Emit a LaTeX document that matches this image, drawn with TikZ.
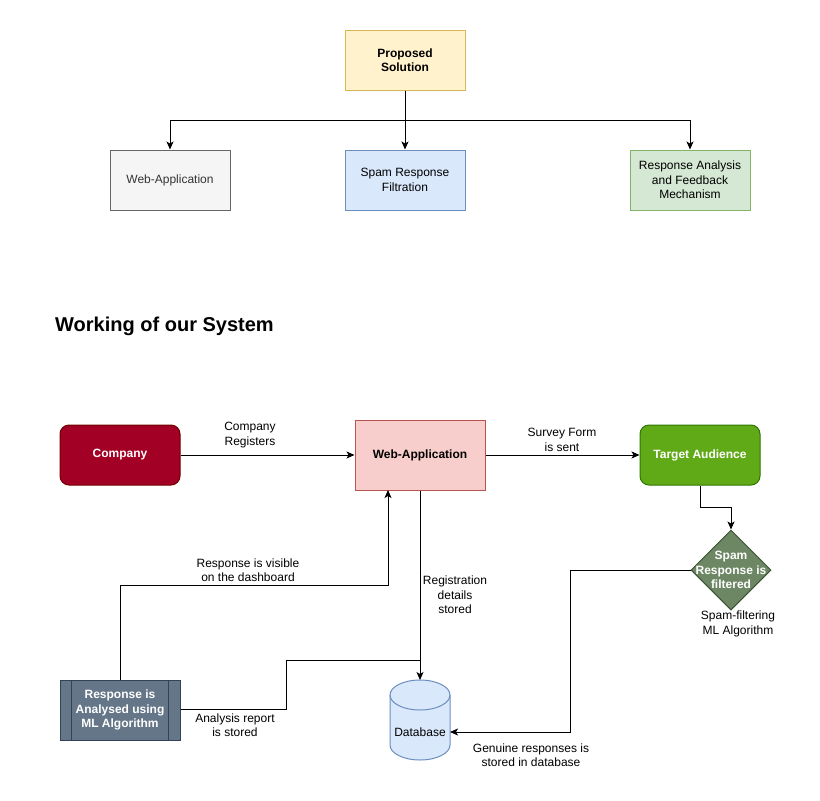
\documentclass[tikz,border=0pt]{standalone}
\usepackage{fontspec}
\setmainfont{Liberation Sans}
\usepackage{tikz}
\usetikzlibrary{positioning, arrows.meta, calc, shapes.geometric}
\definecolor{solfill}{HTML}{FFF2CC}
\definecolor{soldraw}{HTML}{D6B656}
\definecolor{greyfill}{HTML}{F5F5F5}
\definecolor{greydraw}{HTML}{666666}
\definecolor{greytext}{HTML}{333333}
\definecolor{bluefill}{HTML}{DAE8FC}
\definecolor{bluedraw}{HTML}{6C8EBF}
\definecolor{greenfill}{HTML}{D5E8D4}
\definecolor{greendraw}{HTML}{82B366}
\definecolor{redfill}{HTML}{F8CECC}
\definecolor{reddraw}{HTML}{B85450}
\definecolor{compfill}{HTML}{A20025}
\definecolor{compdraw}{HTML}{6F0000}
\definecolor{audfill}{HTML}{60A917}
\definecolor{auddraw}{HTML}{2D7600}
\definecolor{spamfill}{HTML}{6D8764}
\definecolor{spamdraw}{HTML}{3A5431}
\definecolor{procfill}{HTML}{647687}
\definecolor{procdraw}{HTML}{314354}

\begin{document}
\begin{tikzpicture}[x=1pt, y=-1pt,
    every node/.style={font=\fontsize{12}{14.5}\selectfont},
    flowbox/.style={draw, shape=rectangle, line width=1pt, minimum width=120pt, minimum height=60pt, align=center, inner sep=2pt},
    roundbox/.style={flowbox, rounded corners=9pt, text=white, font=\fontsize{12}{14.5}\selectfont\bfseries},
    edgelabel/.style={align=center, inner sep=1pt},
    flowarrow/.style={-{Stealth[length=8pt, width=7pt, inset=2pt]}, line width=1pt, black},
    flowline/.style={line width=1pt, black}
  ]
  \useasboundingbox[fill=white] (0,0) rectangle (820,801);

  % proposed solution tree
  \node[flowbox, fill=solfill, draw=soldraw, font=\fontsize{12}{14.5}\selectfont\bfseries] (PS) at (405,60) {Proposed\\Solution};
  \node[flowbox, fill=greyfill, draw=greydraw, text=greytext] (WA) at (170,180) {Web-Application};
  \node[flowbox, fill=bluefill, draw=bluedraw] (SF) at (405,180) {Spam Response\\Filtration};
  \node[flowbox, fill=greenfill, draw=greendraw] (RA) at (690,180) {Response Analysis\\and Feedback\\Mechanism};

  \draw[flowarrow] (PS.south) -- ++(0,30) -| (WA.north);
  \draw[flowarrow] (PS.south) -- (SF.north);
  \draw[flowarrow] (PS.south) -- ++(0,30) -| (RA.north);

  \node[font=\fontsize{20}{24}\selectfont\bfseries, anchor=west, inner sep=0pt] (title) at (55,326) {Working of our System};

  % working of the system
  \node[roundbox, fill=compfill, draw=compdraw] (comp) at (120,455) {Company};
  \node[flowbox, fill=redfill, draw=reddraw, minimum width=130pt, minimum height=70pt, font=\fontsize{12}{14.5}\selectfont\bfseries] (web) at (420,455) {Web-Application};
  \node[roundbox, fill=audfill, draw=auddraw] (aud) at (700,455) {Target Audience};
  \node[draw=spamdraw, fill=spamfill, shape=diamond, line width=1pt, minimum width=80pt, minimum height=80pt, inner sep=0pt,
        label={[text=white, align=center, font=\fontsize{12}{14.5}\selectfont\bfseries]center:Spam\\Response is\\filtered}] (spam) at (731,570) {};
  % database cylinder
  \node[minimum width=60pt, minimum height=80pt, inner sep=0pt, outer sep=0pt] (db) at (420,720) {};
  \draw[draw=bluedraw, fill=bluefill, line width=1pt]
    ($(db.north west)+(0,15)$) -- ($(db.south west)-(0,15)$)
    arc[start angle=180, end angle=360, x radius=30pt, y radius=15pt]
    -- ($(db.north east)+(0,15)$)
    arc[start angle=0, end angle=180, x radius=30pt, y radius=15pt] -- cycle;
  \draw[draw=bluedraw, line width=1pt] ($(db.north west)+(0,15)$) arc[start angle=180, end angle=360, x radius=30pt, y radius=15pt];
  \node (dbtext) at (420,732) {Database};
  \node[flowbox, fill=procfill, draw=procdraw, text=white, font=\fontsize{12}{14.5}\selectfont\bfseries] (proc) at (120,710) {Response is\\Analysed using\\ML Algorithm};
  \draw[procdraw, line width=1pt] ([xshift=12pt]proc.north west) -- ([xshift=12pt]proc.south west);
  \draw[procdraw, line width=1pt] ([xshift=-12pt]proc.north east) -- ([xshift=-12pt]proc.south east);

  \draw[flowarrow] (comp) -- (web);
  \node[edgelabel] (lblreg) at (250,435) {Company\\Registers};
  \draw[flowarrow] (web) -- (aud);
  \node[edgelabel] (lblsurvey) at (562,440) {Survey Form\\is sent};
  \draw[flowarrow] (aud.south) -- ++(0,22) -| (spam.north);
  \node[edgelabel] (lblspam) at (738,624) {Spam-filtering\\ML Algorithm};
  \draw[flowarrow] (spam.west) -| (570,732) -- ([yshift=-12pt]db.east);
  \node[edgelabel] (lblgen) at (531,755) {Genuine responses is\\stored in database};
  \draw[flowarrow] (web.south) -- (db.north);
  \node[edgelabel] (lbldetails) at (455,595) {Registration\\details\\stored};
  \draw[flowline] ([yshift=1pt]proc.east) -| (286,660) -- (420,660);
  \node[edgelabel] (lblreport) at (235,725) {Analysis report\\is stored};
  \draw[flowarrow] (proc.north) |- (388,585) -- (388,490);
  \node[edgelabel] (lbldash) at (248,570) {Response is visible\\on the dashboard};
\end{tikzpicture}
\end{document}
